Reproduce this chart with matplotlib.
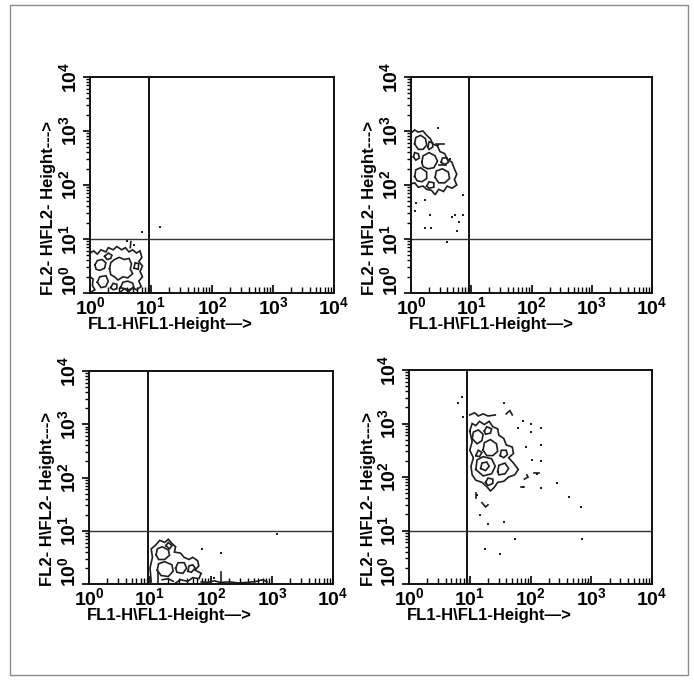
import matplotlib
matplotlib.use("Agg")
import matplotlib.pyplot as plt
from matplotlib.ticker import FixedLocator, LogLocator, NullFormatter
from matplotlib.transforms import ScaledTranslation
from matplotlib.patches import Rectangle
import numpy as np

FONT = ["Liberation Sans", "DejaVu Sans"]
plt.rcParams["font.family"] = FONT
plt.rcParams["font.weight"] = "bold"
plt.rcParams["mathtext.fontset"] = "custom"
plt.rcParams["mathtext.rm"] = "Liberation Sans:bold"
plt.rcParams["mathtext.bf"] = "Liberation Sans:bold"
plt.rcParams["mathtext.it"] = "Liberation Sans:bold"
plt.rcParams["mathtext.default"] = "bf"

# ---------------- data (log10 units) ----------------
X_LABEL = "FL1-H\\FL1-Height\u2014>"
Y_LABEL = "FL2- H\\FL2- Height--->"
DECADES = [0, 1, 2, 3, 4]
TICK_LABELS = [r"$\mathbf{10^{0}}$", r"$\mathbf{10^{1}}$", r"$\mathbf{10^{2}}$",
               r"$\mathbf{10^{3}}$", r"$\mathbf{10^{4}}$"]
QUAD_X = 0.96
QUAD_Y = 1.0

# panel 1 (top-left)
TL_OUTER = [(0.0, 0.74), (0.06, 0.78), (0.12, 0.72), (0.18, 0.8), (0.26, 0.76), (0.3, 0.84),
            (0.38, 0.8), (0.44, 0.86), (0.52, 0.8), (0.58, 0.84), (0.64, 0.76), (0.7, 0.8),
            (0.76, 0.74), (0.82, 0.78), (0.85, 0.66), (0.8, 0.58), (0.86, 0.5), (0.82, 0.4),
            (0.86, 0.3), (0.8, 0.22), (0.84, 0.12), (0.76, 0.06), (0.7, 0.1), (0.64, 0.03),
            (0.56, 0.08), (0.5, 0.02)]
TL_RING = [(0.32, 0.45), (0.34, 0.56), (0.4, 0.62), (0.48, 0.66), (0.56, 0.62), (0.64, 0.64),
           (0.68, 0.54), (0.66, 0.44), (0.7, 0.36), (0.62, 0.28), (0.54, 0.3), (0.46, 0.24),
           (0.4, 0.3), (0.34, 0.34), (0.32, 0.45)]
TL_LOOP2 = [(0.08, 0.52), (0.12, 0.6), (0.2, 0.62), (0.26, 0.56), (0.24, 0.46), (0.16, 0.42),
            (0.1, 0.44), (0.08, 0.52)]
TL_LOOP3 = [(0.12, 0.2), (0.16, 0.3), (0.26, 0.32), (0.3, 0.22), (0.26, 0.12), (0.18, 0.1),
            (0.12, 0.2)]
TL_LOOP4 = [(0.5, 0.1), (0.54, 0.2), (0.62, 0.22), (0.7, 0.18), (0.72, 0.1), (0.64, 0.06),
            (0.5, 0.1)]
TL_LOOP5 = [(0.24, 0.68), (0.3, 0.74), (0.36, 0.7), (0.34, 0.64), (0.28, 0.62), (0.24, 0.68)]
TL_LOOP6 = [(0.72, 0.46), (0.74, 0.56), (0.8, 0.54), (0.79, 0.44), (0.72, 0.46)]
TL_LOOP7 = [(0.34, 0.1), (0.38, 0.18), (0.44, 0.16), (0.44, 0.08), (0.38, 0.06), (0.34, 0.1)]
TL_LEFT = [(0.0, 0.3), (0.05, 0.26), (0.04, 0.14), (0.08, 0.06), (0.02, 0.02)]
TL_SPUR = [(0.66, 0.84), (0.67, 0.95)]
TL_DOTS = [(0.85, 1.13), (1.15, 1.22), (0.6, 0.96), (0.72, 0.89)]

# panel 2 (top-right)
TR_OUTER = [(0.0, 2.96), (0.06, 3.02), (0.12, 2.98), (0.2, 3.0), (0.26, 2.92), (0.32, 2.86),
            (0.36, 2.76), (0.44, 2.72), (0.48, 2.62), (0.56, 2.58), (0.6, 2.48), (0.68, 2.42),
            (0.72, 2.3), (0.76, 2.2), (0.72, 2.1), (0.76, 2.0), (0.68, 1.94), (0.6, 1.98),
            (0.54, 1.88), (0.46, 1.92), (0.4, 1.82), (0.34, 1.9), (0.26, 1.92), (0.2, 1.98),
            (0.12, 1.96), (0.06, 2.04), (0.0, 2.02)]
TR_L1 = [(0.06, 2.76), (0.08, 2.88), (0.16, 2.92), (0.24, 2.86), (0.26, 2.74), (0.2, 2.66),
         (0.12, 2.66), (0.06, 2.76)]
TR_L2 = [(0.18, 2.42), (0.2, 2.54), (0.3, 2.6), (0.4, 2.54), (0.44, 2.44), (0.38, 2.32),
         (0.28, 2.3), (0.2, 2.34), (0.18, 2.42)]
TR_L3 = [(0.4, 2.14), (0.42, 2.26), (0.52, 2.3), (0.62, 2.24), (0.64, 2.12), (0.56, 2.04),
         (0.46, 2.04), (0.4, 2.14)]
TR_L4 = [(0.06, 2.16), (0.08, 2.28), (0.16, 2.32), (0.26, 2.24), (0.26, 2.12), (0.18, 2.06),
         (0.1, 2.08), (0.06, 2.16)]
TR_L5 = [(0.04, 2.52), (0.06, 2.6), (0.12, 2.58), (0.14, 2.5), (0.08, 2.46), (0.04, 2.52)]
TR_L6 = [(0.28, 2.7), (0.3, 2.8), (0.36, 2.78), (0.36, 2.7), (0.3, 2.66), (0.28, 2.7)]
TR_L7 = [(0.5, 2.42), (0.52, 2.5), (0.6, 2.5), (0.62, 2.42), (0.56, 2.38), (0.5, 2.42)]
TR_L8 = [(0.26, 1.98), (0.3, 2.06), (0.38, 2.04), (0.38, 1.96), (0.3, 1.94), (0.26, 1.98)]
TR_DASH1 = [(0.42, 2.76), (0.54, 2.76)]
TR_DASH2 = [(0.46, 2.37), (0.58, 2.37)]
TR_DOTS = [(0.09, 1.66), (0.23, 1.72), (0.07, 1.51), (0.32, 1.44), (0.23, 1.2), (0.34, 1.2),
           (0.68, 1.41), (0.73, 1.44), (0.86, 1.44), (0.79, 1.31), (0.76, 1.14), (0.59, 0.95),
           (0.87, 1.81), (0.45, 3.05), (0.45, 2.74), (0.65, 2.49)]

# panel 3 (bottom-left)
BL_OUTER = [(1.02, 0.04), (1.0, 0.3), (1.04, 0.5), (1.02, 0.66), (1.1, 0.74), (1.16, 0.82),
            (1.24, 0.78), (1.3, 0.84), (1.36, 0.76), (1.42, 0.7), (1.4, 0.6), (1.5, 0.58),
            (1.56, 0.5), (1.64, 0.46), (1.7, 0.5), (1.78, 0.44), (1.8, 0.34), (1.74, 0.26),
            (1.84, 0.2), (1.8, 0.1), (1.7, 0.12), (1.62, 0.05), (1.5, 0.08), (1.42, 0.02)]
BL_L1 = [(1.1, 0.55), (1.12, 0.66), (1.2, 0.7), (1.3, 0.64), (1.32, 0.54), (1.24, 0.46),
         (1.14, 0.46), (1.1, 0.55)]
BL_L2 = [(1.12, 0.26), (1.14, 0.38), (1.24, 0.42), (1.36, 0.36), (1.38, 0.24), (1.3, 0.14),
         (1.18, 0.16), (1.12, 0.26)]
BL_L3 = [(1.42, 0.3), (1.46, 0.4), (1.56, 0.4), (1.6, 0.3), (1.54, 0.2), (1.44, 0.22),
         (1.42, 0.3)]
BL_L4 = [(1.2, 0.08), (1.3, 0.1), (1.38, 0.05)]
BL_L5 = [(1.62, 0.24), (1.64, 0.34), (1.7, 0.36), (1.74, 0.3), (1.68, 0.22), (1.62, 0.24)]
BL_L6 = [(1.26, 0.72), (1.3, 0.78), (1.36, 0.72), (1.32, 0.66), (1.26, 0.72)]
BL_BASE = [(1.84, 0.04), (1.95, 0.03), (2.05, 0.06), (2.15, 0.03), (2.3, 0.04), (2.45, 0.02),
           (2.6, 0.03), (2.75, 0.05), (2.85, 0.08), (2.92, 0.04)]
BL_V1 = [(1.13, 0.0), (1.13, 0.22)]
BL_V2 = [(2.17, 0.0), (2.17, 0.22)]
BL_DOTS = [(1.85, 0.65), (2.17, 0.58), (3.09, 0.94), (2.05, 0.12)]

# panel 4 (bottom-right)
BR_OUTER = [(1.0, 2.86), (1.04, 3.0), (1.1, 2.96), (1.16, 3.04), (1.24, 2.98), (1.32, 3.04),
            (1.38, 2.94), (1.46, 2.9), (1.48, 2.78), (1.56, 2.72), (1.6, 2.6), (1.7, 2.56),
            (1.72, 2.44), (1.64, 2.36), (1.72, 2.26), (1.8, 2.14), (1.74, 2.04), (1.64, 2.0),
            (1.56, 1.92), (1.46, 1.9), (1.4, 1.8), (1.34, 1.74), (1.28, 1.82), (1.2, 1.9),
            (1.1, 1.94), (1.04, 2.04), (1.02, 2.2), (1.06, 2.36), (1.0, 2.5), (1.04, 2.66),
            (1.0, 2.86)]
BR_L1 = [(1.04, 2.72), (1.06, 2.84), (1.14, 2.88), (1.22, 2.8), (1.2, 2.68), (1.12, 2.62),
         (1.04, 2.72)]
BR_L2 = [(1.22, 2.5), (1.24, 2.64), (1.34, 2.7), (1.44, 2.62), (1.46, 2.48), (1.38, 2.4),
         (1.28, 2.4), (1.22, 2.5)]
BR_L3 = [(1.1, 2.14), (1.12, 2.32), (1.22, 2.38), (1.36, 2.34), (1.42, 2.2), (1.36, 2.06),
         (1.22, 2.02), (1.1, 2.14)]
BR_L4 = [(1.18, 2.16), (1.2, 2.26), (1.28, 2.28), (1.32, 2.2), (1.26, 2.12), (1.18, 2.16)]
BR_L5 = [(1.46, 2.1), (1.48, 2.22), (1.58, 2.26), (1.64, 2.16), (1.58, 2.06), (1.48, 2.04),
         (1.46, 2.1)]
BR_L6 = [(1.1, 2.4), (1.14, 2.5), (1.2, 2.46), (1.16, 2.38), (1.1, 2.4)]
BR_L7 = [(1.24, 2.86), (1.28, 2.94), (1.36, 2.9), (1.34, 2.82), (1.26, 2.8), (1.24, 2.86)]
BR_L8 = [(1.5, 2.4), (1.52, 2.5), (1.6, 2.5), (1.62, 2.42), (1.56, 2.36), (1.5, 2.4)]
BR_L9 = [(1.26, 1.9), (1.3, 1.98), (1.38, 1.96), (1.38, 1.88), (1.3, 1.84), (1.26, 1.9)]
BR_TOP = [(1.0, 3.16), (1.08, 3.2), (1.14, 3.14), (1.22, 3.18), (1.3, 3.14), (1.42, 3.16)]
BR_TOP2 = [(1.6, 3.18), (1.66, 3.24), (1.7, 3.16)]
BR_BITS = [[(1.2, 1.52), (1.26, 1.44), (1.3, 1.48)],
           [(1.1, 1.6), (1.1, 1.7)],
           [(1.9, 1.96), (1.96, 2.0), (1.94, 2.04)],
           [(2.06, 2.07), (2.14, 2.07)],
           [(1.84, 1.82), (1.9, 1.82)]]
BR_DOTS = [(0.87, 3.5), (0.81, 3.38), (1.56, 3.38), (0.89, 3.13), (1.87, 3.05), (1.8, 2.91),
           (2.0, 3.0), (2.0, 2.85), (2.18, 2.91), (2.18, 2.6), (2.18, 2.29), (1.93, 2.57),
           (2.02, 2.32), (2.1, 2.06), (2.43, 1.88), (1.87, 1.82), (2.18, 1.79), (2.64, 1.62),
           (2.83, 1.43), (1.12, 1.66), (1.17, 1.29), (1.3, 1.13), (1.56, 1.16), (1.74, 0.84),
           (2.84, 0.84), (1.25, 0.65), (1.5, 0.57), (2.95, 0.02)]

PANELS = [
    dict(rect=(90, 77, 334, 293), lines=[TL_OUTER, TL_RING, TL_LOOP2, TL_LOOP3, TL_LOOP4,
                                         TL_LOOP5, TL_LOOP6, TL_LOOP7, TL_LEFT, TL_SPUR],
         dots=TL_DOTS),
    dict(rect=(411, 77, 652, 293), lines=[TR_OUTER, TR_L1, TR_L2, TR_L3, TR_L4, TR_L5,
                                          TR_L6, TR_L7, TR_L8, TR_DASH1, TR_DASH2],
         dots=TR_DOTS),
    dict(rect=(89, 371, 333, 584), lines=[BL_OUTER, BL_L1, BL_L2, BL_L3, BL_L4, BL_L5, BL_L6,
                                          BL_BASE, BL_V1, BL_V2], dots=BL_DOTS),
    dict(rect=(409, 370, 652, 584), lines=[BR_OUTER, BR_L1, BR_L2, BR_L3, BR_L4, BR_L5,
                                           BR_L6, BR_L7, BR_L8, BR_L9, BR_TOP, BR_TOP2]
         + BR_BITS, dots=BR_DOTS),
]

W, H = 694, 680
fig = plt.figure(figsize=(W / 100, H / 100), dpi=100)
fig.patch.set_facecolor("white")

# outer frame
fig.add_artist(Rectangle((10 / W, 1 - 675 / H), 678 / W, 670 / H, transform=fig.transFigure,
                         fill=False, edgecolor="#8c8c8c", linewidth=1.0))

INK = "#1e1e1e"
px = 0.72  # points per pixel

for p in PANELS:
    l, t, r, b = p["rect"]
    ax = fig.add_axes([l / W, 1 - b / H, (r - l) / W, (b - t) / H])
    ax.set_xscale("log")
    ax.set_yscale("log")
    ax.set_xlim(1, 1e4)
    ax.set_ylim(1, 1e4)
    for s in ax.spines.values():
        s.set_linewidth(1.4)
        s.set_color("#111111")
    for seg in p["lines"]:
        xs = [10 ** a for a, _ in seg]
        ys = [10 ** c for _, c in seg]
        ax.plot(xs, ys, color=INK, lw=1.2, solid_joinstyle="miter")
    dx = [10 ** a for a, _ in p["dots"]]
    dy = [10 ** c for _, c in p["dots"]]
    ax.plot(dx, dy, ls="none", marker="s", ms=1.9, color=INK, mew=0)
    ax.axvline(10 ** QUAD_X, color="#111111", lw=1.4)
    ax.axhline(10 ** QUAD_Y, color="#333333", lw=1.0)

    ax.xaxis.set_major_locator(FixedLocator([10 ** d for d in DECADES]))
    ax.yaxis.set_major_locator(FixedLocator([10 ** d for d in DECADES]))
    ax.xaxis.set_minor_locator(LogLocator(base=10, subs=np.arange(2, 10)))
    ax.yaxis.set_minor_locator(LogLocator(base=10, subs=np.arange(2, 10)))
    ax.xaxis.set_minor_formatter(NullFormatter())
    ax.yaxis.set_minor_formatter(NullFormatter())
    ax.set_xticklabels(TICK_LABELS, fontsize=14)
    ax.set_yticklabels(TICK_LABELS, fontsize=14, rotation=90, va="center")
    ax.tick_params(axis="x", which="major", direction="in", length=6, width=1.2, pad=2)
    ax.tick_params(axis="x", which="minor", direction="in", length=4, width=1.0)
    ax.tick_params(axis="y", which="major", direction="out", length=5, width=1.2, pad=2)
    ax.tick_params(axis="y", which="minor", direction="out", length=3, width=1.0)
    ylabs = ax.get_yticklabels()
    ylabs[0].set_transform(ylabs[0].get_transform() + ScaledTranslation(0, 0.12, fig.dpi_scale_trans))

    ax.annotate(X_LABEL, xy=(0, 0), xycoords="axes fraction", xytext=(-2 * px, -24 * px),
                textcoords="offset points", ha="left", va="top", fontsize=12, fontweight="bold")
    ax.annotate(Y_LABEL, xy=(0, 0), xycoords="axes fraction", xytext=(-41 * px, -2 * px),
                textcoords="offset points", ha="center", va="bottom", rotation=90,
                fontsize=12, fontweight="bold")

fig.savefig("out.png", dpi=100, facecolor="white")
